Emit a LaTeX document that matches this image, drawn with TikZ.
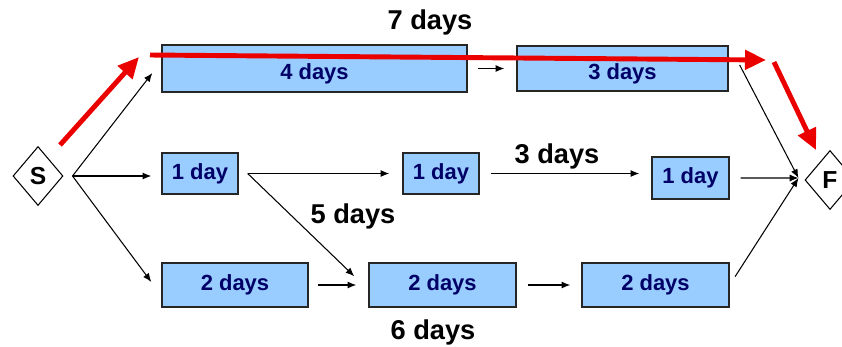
\documentclass[tikz,border=0pt]{standalone}
\usepackage{fontspec}
\setmainfont{Liberation Sans}
\usetikzlibrary{shapes.geometric,arrows.meta}
\definecolor{boxblue}{RGB}{153,204,255}
\definecolor{daynavy}{RGB}{0,0,102}
\definecolor{pathred}{RGB}{235,0,0}
\tikzset{
  task/.style={draw=black!85,line width=0.8pt,fill=boxblue,text=daynavy,
    font=\fontsize{12.5}{14}\selectfont\bfseries,inner sep=0pt},
  lowtext/.style={text height=15.5pt,text depth=2.6pt},
  ends/.style={draw,diamond,line width=0.6pt,inner sep=0pt,minimum width=1cm,
    minimum height=1.18cm,font=\fontsize{14}{16}\selectfont\bfseries},
  dur/.style={font=\fontsize{15.5}{18}\selectfont\bfseries},
  link/.style={-{Latex[length=5pt,width=4pt]},line width=0.6pt},
  crit/.style={-{Triangle[length=0.42cm,width=0.38cm]},pathred,line width=2.8pt}
}
\begin{document}
\begin{tikzpicture}[x=0.02cm,y=-0.02cm]
\useasboundingbox (0,0) rectangle (842,346);
% start and finish
\node[ends] (S) at (38,176) {S};
\node[ends] (F) at (830,180) {F};
\coordinate (fork) at ([xshift=0.18cm]S.east);
\coordinate (join) at ([xshift=-0.12cm,yshift=0.04cm]F.west);
% tasks
\node[task,lowtext,minimum width=6.1cm,minimum height=0.94cm] (four) at (314.5,68.5) {4 days};
\node[task,lowtext,minimum width=4.22cm,minimum height=0.9cm] (three) at (622.5,68.5) {3 days};
\node[task,minimum width=1.52cm,minimum height=0.82cm] (onea) at (200,173.5) {1 day};
\node[task,minimum width=1.52cm,minimum height=0.82cm] (oneb) at (441,173.5) {1 day};
\node[task,minimum width=1.54cm,minimum height=0.84cm] (onec) at (690.5,178) {1 day};
\node[task,minimum width=2.92cm,minimum height=0.88cm] (twoa) at (235,285) {2 days};
\node[task,minimum width=2.94cm,minimum height=0.88cm] (twob) at (442.5,285) {2 days};
\node[task,minimum width=2.94cm,minimum height=0.88cm] (twoc) at (655.5,285) {2 days};
% links
\draw[link](fork)--([xshift=-0.18cm,yshift=-0.09cm]four.west);
\draw[link,shorten >=0.2cm](fork)--(fork-|onea.west);
\draw[link](fork)--([xshift=-0.2cm,yshift=0.06cm]twoa.west);
\draw[link,shorten <=0.2cm,shorten >=0.24cm](four.east)--(three.west);
\draw[link,shorten <=0.18cm,shorten >=0.26cm](onea.east)--(oneb.west);
\draw[link]([xshift=0.18cm]onea.east)--([xshift=-0.28cm,yshift=-0.28cm]twob.north west);
\draw[link,shorten <=0.22cm,shorten >=0.24cm](oneb.east)--(oneb.east-|onec.west);
\draw[link,shorten <=0.22cm](onec.east)--(join);
\draw[link]([xshift=0.22cm,yshift=0.07cm]three.east)--(join);
\draw[link,shorten <=0.18cm,shorten >=0.24cm](twoa.east)--(twob.west);
\draw[link,shorten <=0.22cm,shorten >=0.22cm](twob.east)--(twoc.west);
\draw[link,shorten <=0.2cm](twoc.east)--(join);
% critical path
\coordinate (c1) at (60,145);
\coordinate (c2) at (139,57);
\coordinate (c3) at (150,55);
\coordinate (c4) at (766,60);
\coordinate (c5) at (774,62);
\coordinate (c6) at (816,150);
\draw[crit](c1)--(c2);
\draw[crit](c3)--(c4);
\draw[crit](c5)--(c6);
% durations
\node[dur] (d7) at (430,22) {7 days};
\node[dur] (d3) at (557,156) {3 days};
\node[dur] (d5) at (353,216) {5 days};
\node[dur] (d6) at (433,332) {6 days};
\end{tikzpicture}
\end{document}
